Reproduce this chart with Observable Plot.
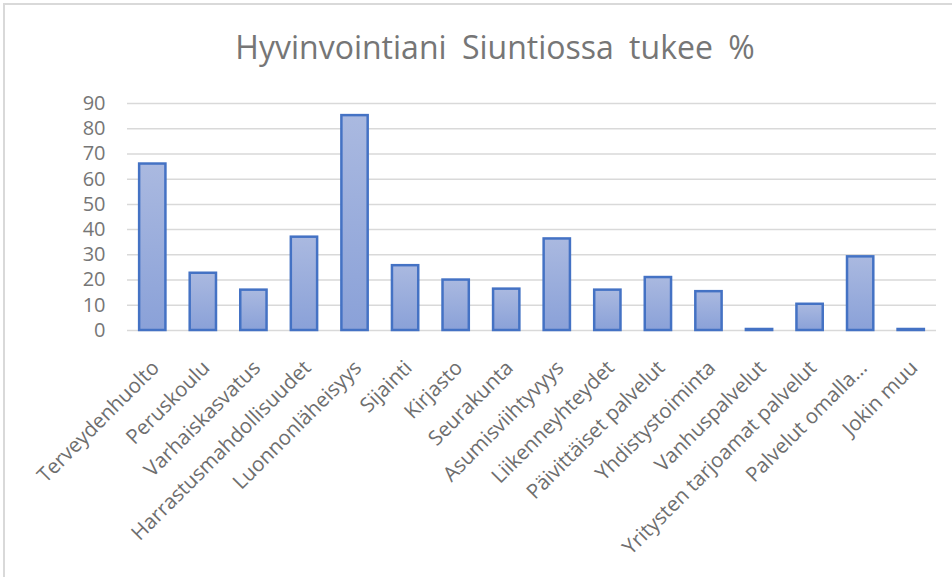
<!DOCTYPE html>
<html>
<head>
<meta charset="utf-8">
<script src="https://cdn.jsdelivr.net/npm/d3@7"></script>
<script src="https://cdn.jsdelivr.net/npm/@observablehq/plot@0.6"></script>
<style>
  html, body { margin: 0; padding: 0; background: #fff; }
  #frame { position: absolute; left: 3px; top: 3px; width: 980px; height: 600px;
           border-left: 2px solid #d9d9d9; border-top: 2px solid #d9d9d9; pointer-events: none; }
  #title { box-sizing: border-box; width: 952px; height: 80px; padding-top: 26px; padding-left: 38px;
           text-align: center; font-family: "Open Sans", sans-serif; font-size: 32px;
           color: #767676; word-spacing: 7px; line-height: 42px; }
  #chart svg { display: block; }
</style>
</head>
<body>
<div id="frame"></div>
<div id="title">Hyvinvointiani Siuntiossa tukee %</div>
<div id="chart"></div>
<script>
const categories = [
  "Terveydenhuolto", "Peruskoulu", "Varhaiskasvatus", "Harrastusmahdollisuudet",
  "Luonnonläheisyys", "Sijainti", "Kirjasto", "Seurakunta", "Asumisviihtyvyys",
  "Liikenneyhteydet", "Päivittäiset palvelut", "Yhdistystoiminta", "Vanhuspalvelut",
  "Yritysten tarjoamat palvelut", "Palvelut omalla…", "Jokin muu"
];
const values = [66, 22.7, 16, 37, 85.2, 25.7, 20, 16.4, 36.3, 16, 21, 15.4, 0.4, 10.4, 29.2, 0.4];
const yTicks = [0, 10, 20, 30, 40, 50, 60, 70, 80, 90];

const data = categories.map((c, i) => ({category: c, value: values[i]}));

const chart = Plot.plot({
  width: 952,
  height: 497,
  marginTop: 23,
  marginBottom: 247,
  marginLeft: 127,
  marginRight: 16,
  style: {fontFamily: "'Open Sans', sans-serif", background: "white"},
  x: {domain: categories, paddingInner: 0.48, paddingOuter: 0.24, round: false, axis: null},
  y: {domain: [0, 90], axis: null},
  marks: [
    Plot.ruleY(yTicks, {stroke: "#d9d9d9", strokeWidth: 1.5}),
    Plot.axisY(yTicks, {tickSize: 0, tickPadding: 22, fontSize: 20, fill: "#767676", label: null, tickFormat: d => String(d)}),
    Plot.barY(data, {x: "category", y: "value", fill: "url(#barGrad)", stroke: "#4472c4", strokeWidth: 2.5}),
    Plot.text(data, {x: "category", text: "category", frameAnchor: "bottom", rotate: -45,
      textAnchor: "end", lineAnchor: "middle", dx: 3, dy: 34, fontSize: 20.5, fill: "#6e6e6e"})
  ]
});

const svg = d3.select(chart);
const grad = svg.insert("defs", ":first-child")
  .append("linearGradient").attr("id", "barGrad")
  .attr("x1", 0).attr("y1", 0).attr("x2", 0).attr("y2", 1);
grad.append("stop").attr("offset", "0%").attr("stop-color", "#aab9e0");
grad.append("stop").attr("offset", "100%").attr("stop-color", "#8aa1d8");

document.getElementById("chart").appendChild(chart);
</script>
</body>
</html>
